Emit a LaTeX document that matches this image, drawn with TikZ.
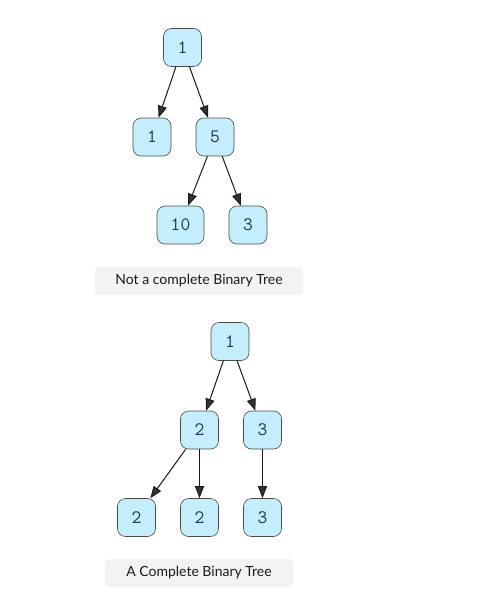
\documentclass[tikz,border=0pt]{standalone}
\usepackage{fontspec}
\setmainfont{Lato}
\usetikzlibrary{arrows.meta}
\definecolor{nodefill}{HTML}{C4EEFC}
\definecolor{nodeline}{HTML}{4A4A4A}
\definecolor{digit}{HTML}{22335A}
\definecolor{capfill}{HTML}{F3F3F3}
\definecolor{captext}{HTML}{1A1A1A}
\begin{document}
\begin{tikzpicture}[x=1pt,y=-1pt,
  tnode/.style={draw=nodeline, fill=nodefill, rounded corners=8pt, line width=0.6pt,
    minimum height=38pt, minimum width=38pt, inner sep=2pt,
    font=\ttfamily\fontsize{19}{19}\selectfont, text=digit},
  caption/.style={fill=capfill, rounded corners=4pt, minimum height=28pt, inner sep=0pt,
    font=\fontsize{14}{14}\selectfont, text=captext},
  edge/.style={-{Triangle[length=12pt,width=9pt,fill=black!80]}, line width=1pt, draw=black!90}]
\useasboundingbox (0,0) rectangle (502,592);
% top tree
\node[tnode] (a) at (182.5,47.5) {1};
\node[tnode] (b) at (152,137) {1};
\node[tnode] (c) at (215,137) {5};
\node[tnode, minimum width=47pt] (d) at (180.5,225) {10};
\node[tnode] (e) at (248,225) {3};
\draw[edge] (a) -- (b);
\draw[edge] (a) -- (c);
\draw[edge] (c) -- (d);
\draw[edge] (c) -- (e);
\node[caption, minimum width=208pt] (cap1) at (199,281) {Not a complete Binary Tree};
% bottom tree
\node[tnode] (f) at (230,341.5) {1};
\node[tnode] (g) at (199.5,430) {2};
\node[tnode] (h) at (262.5,430) {3};
\node[tnode] (i) at (136.5,517.5) {2};
\node[tnode] (j) at (199.5,517.5) {2};
\node[tnode] (k) at (262.5,517.5) {3};
\draw[edge] (f) -- (g);
\draw[edge] (f) -- (h);
\draw[edge] (g) -- (i);
\draw[edge] (g) -- (j);
\draw[edge] (h) -- (k);
\node[caption, minimum width=188pt] (cap2) at (199,573) {A Complete Binary Tree};
\end{tikzpicture}
\end{document}
